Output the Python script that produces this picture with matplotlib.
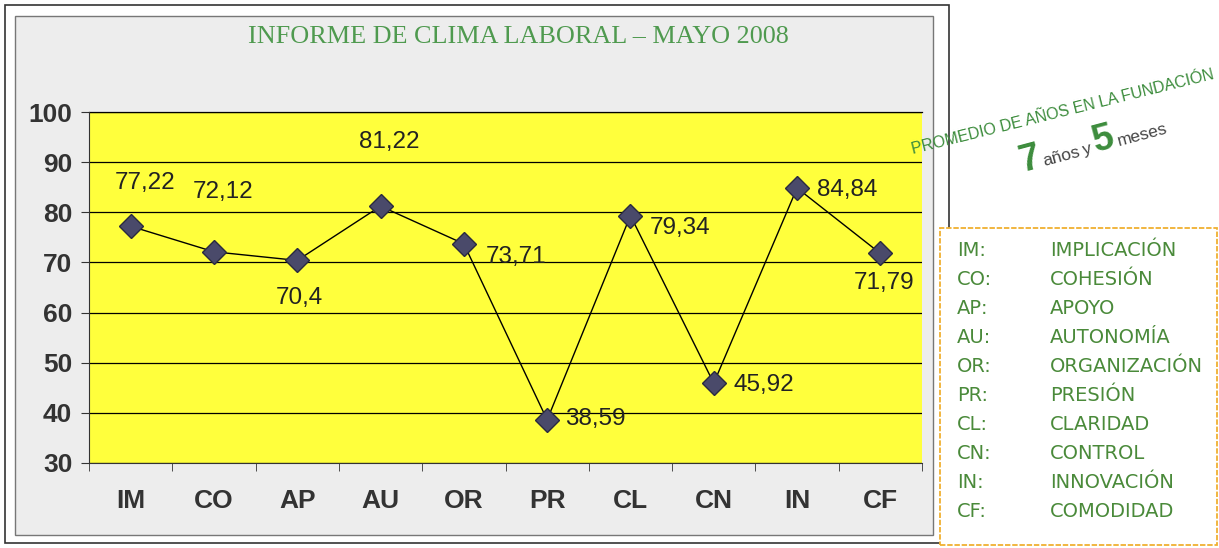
import matplotlib
matplotlib.use("Agg")
import matplotlib.pyplot as plt
from matplotlib.patches import Rectangle

# data
categories = ["IM", "CO", "AP", "AU", "OR", "PR", "CL", "CN", "IN", "CF"]
values = [77.22, 72.12, 70.4, 81.22, 73.71, 38.59, 79.34, 45.92, 84.84, 71.79]
names = ["IMPLICACIÓN", "COHESIÓN", "APOYO", "AUTONOMÍA", "ORGANIZACIÓN",
         "PRESIÓN", "CLARIDAD", "CONTROL", "INNOVACIÓN", "COMODIDAD"]
y_ticks = [30, 40, 50, 60, 70, 80, 90, 100]

# where each value label sits relative to its marker (pixels, up is positive)
label_offsets = [(14, 43), (9, 60), (2, -38), (9, 64), (52, -13),
                 (48, 1), (50, -12), (50, -2), (50, -2), (4, -30)]

W, H = 1219, 548
fig = plt.figure(figsize=(W / 100, H / 100), dpi=100)
fig.patch.set_facecolor("white")


def fx(x):
    return x / W


def fy(y):
    return 1 - y / H


# frames around the chart
fig.patches.append(Rectangle((fx(5), fy(543)), fx(944), 538 / H, transform=fig.transFigure,
                             facecolor="white", edgecolor="#333333", lw=1.2, zorder=-2))
fig.patches.append(Rectangle((fx(15), fy(535)), fx(918), 519 / H, transform=fig.transFigure,
                             facecolor="#ededed", edgecolor="#777777", lw=1.0, zorder=-1))
fig.patches.append(Rectangle((fx(940), fy(545)), fx(277), 317 / H, transform=fig.transFigure,
                             facecolor="white", edgecolor="#f0b030", lw=1.3, ls=(0, (3, 1)), zorder=-1))

ax = fig.add_axes([fx(89), fy(463), fx(922 - 89), (463 - 112) / H])
ax.set_zorder(2)
ax.set_facecolor("#ffff3c")
x = list(range(len(categories)))
ax.plot(x, values, color="black", lw=1.0, marker="D", markersize=12.5,
        markerfacecolor="#4a4a6a", markeredgecolor="#2a2a40", markeredgewidth=1, zorder=3)

for xi, v, (dx, dy) in zip(x, values, label_offsets):
    ax.annotate(f"{v:g}".replace(".", ","), (xi, v), xytext=(dx, dy), textcoords="offset pixels",
                ha="center", va="center", fontsize=17.5, family="Liberation Sans", color="#222222")

ax.set_xlim(-0.5, len(categories) - 0.5)
ax.set_ylim(30, 100)
ax.set_yticks(y_ticks)
ax.set_yticklabels([str(t) for t in y_ticks], fontsize=19, fontweight="bold",
                   family="Liberation Sans", color="#333333")
ax.set_xticks(x)
ax.set_xticklabels(categories, fontsize=19, fontweight="bold", family="Liberation Sans", color="#333333")
ax.set_xticks([i - 0.5 for i in range(len(categories) + 1)], minor=True)
ax.tick_params(axis="x", which="major", length=0, pad=19)
ax.tick_params(axis="x", which="minor", length=6, direction="out", color="#333333")
ax.tick_params(axis="y", length=6, direction="out", color="#333333", pad=6)
ax.grid(axis="y", color="black", lw=0.9)
ax.set_axisbelow(True)
for s in ["top", "right"]:
    ax.spines[s].set_visible(False)
ax.spines["left"].set_color("#333333")
ax.spines["bottom"].set_color("#333333")
ax.axhline(100, color="black", lw=0.9, clip_on=False)

fig.text(fx(518), fy(37), "INFORME DE CLIMA LABORAL – MAYO 2008", ha="center", va="center",
         fontsize=18.8, family="Liberation Serif", color="#4f9a4f")

# rotated note on the right
green = "#3c8c3c"
note_font = "Liberation Sans"
fig.text(fx(1063), fy(112), "PROMEDIO DE AÑOS EN LA FUNDACIÓN", rotation=14, ha="center", va="center",
         rotation_mode="anchor", fontsize=11.5, family=note_font, color=green)
pieces = [("7", (1022, 172), 27, "bold", green),
          ("años", (1044, 166), 12.5, "normal", "#444444"),
          ("y", (1084, 155), 12.5, "normal", "#444444"),
          ("5", (1096, 152), 27, "bold", green),
          ("meses", (1119, 146), 12.5, "normal", "#444444")]
for txt, (px, py), size, weight, col in pieces:
    fig.text(fx(px), fy(py), txt, rotation=15, ha="left", va="baseline", rotation_mode="anchor",
             fontsize=size, fontweight=weight, family=note_font, color=col)

# legend of abbreviations
for i, (c, n) in enumerate(zip(categories, names)):
    yy = fy(251 + i * 28.9)
    fig.text(fx(957), yy, c + ":", ha="left", va="center", fontsize=14,
             family="DejaVu Sans", color="#4a8a3a")
    fig.text(fx(1050), yy, n, ha="left", va="center", fontsize=14,
             family="DejaVu Sans", color="#4a8a3a")

fig.savefig("out.png", dpi=100)
